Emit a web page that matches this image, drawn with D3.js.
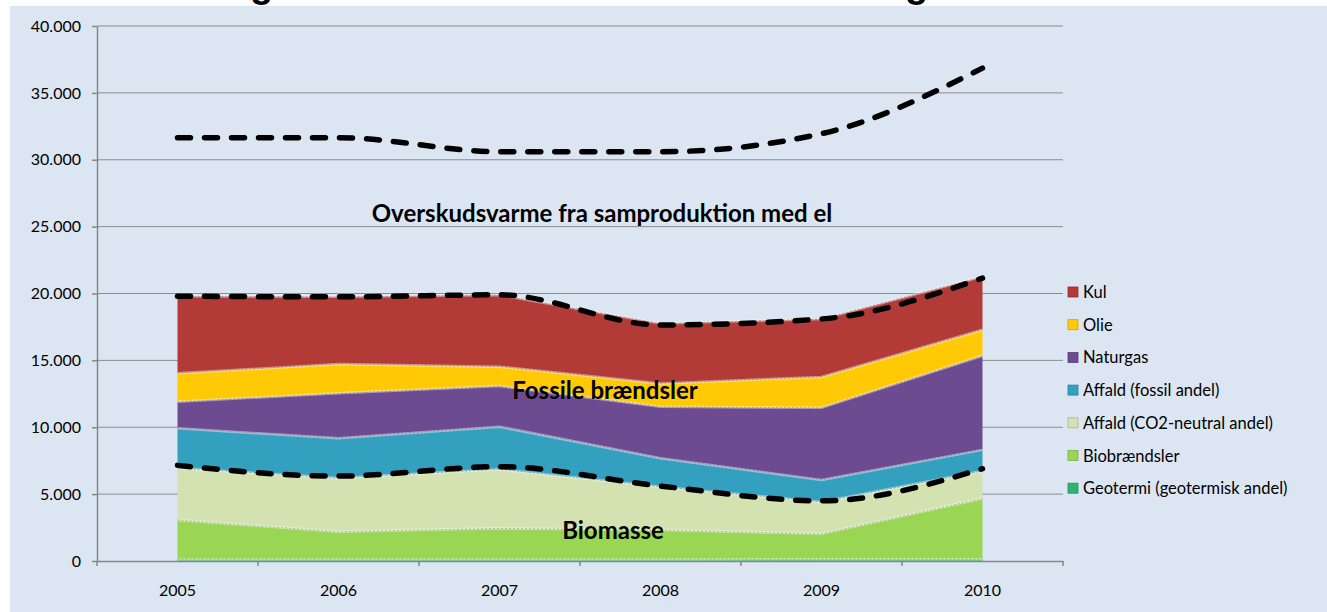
<!DOCTYPE html>
<html>
<head>
<meta charset="utf-8">
<script src="https://cdn.jsdelivr.net/npm/d3@7"></script>
<style>
  body { margin: 0; background: #ffffff; }
  svg { display: block; font-family: Lato, "Open Sans", sans-serif; }
</style>
</head>
<body>
<svg id="chart" width="1327" height="612"></svg>
<script>
// categories and values
const years = ["2005", "2006", "2007", "2008", "2009", "2010"];
const seriesNames = ["Geotermi (geotermisk andel)", "Biobrændsler", "Affald (CO2-neutral andel)",
  "Affald (fossil andel)", "Naturgas", "Olie", "Kul"];
const geotermi = [100, 100, 100, 100, 110, 110];
const biobraendsler = [2970, 2090, 2340, 2220, 1920, 4560];
const affaldCO2 = [3880, 4010, 4420, 3240, 2380, 2060];
const affaldFossil = [2970, 2970, 3180, 2120, 1650, 1580];
const naturgas = [1990, 3370, 3040, 3860, 5390, 7040];
const olie = [2120, 2190, 1450, 1740, 2310, 1940];
const kul = [5770, 5020, 5360, 4470, 4340, 3970];
// dashed overlay lines
const totalLine = [31650, 31650, 30600, 30600, 31950, 36850];
const fossilLine = [19800, 19750, 19900, 17650, 18100, 21150];
const biomassLine = [7150, 6350, 7050, 5600, 4500, 6900];
const yTicks = [0, 5000, 10000, 15000, 20000, 25000, 30000, 35000, 40000];

const colors = ["#2fb36f", "#98d654", "#d4e2b2", "#33a0c0", "#6c4b90", "#ffc905", "#b23b38"];
const seriesValues = [geotermi, biobraendsler, affaldCO2, affaldFossil, naturgas, olie, kul];

const svg = d3.select("#chart");
const plotLeft = 97, plotRight = 1063, plotTop = 26, plotBottom = 561;

// background
svg.append("rect").attr("x", 10).attr("y", 6).attr("width", 1317).attr("height", 606)
  .attr("fill", "#dce6f2");

// clipped title remnants at the very top (the title itself lies above the picture)
svg.append("g").selectAll("text")
  .data(["g", "g"])
  .enter().append("text")
  .attr("x", (d, i) => i === 0 ? 250 : 905)
  .attr("y", -3)
  .attr("font-size", 38).attr("font-weight", "bold").attr("font-family", "Liberation Sans, Arial")
  .text(d => d);

const x = d3.scaleBand().domain(years).range([plotLeft, plotRight]);
const xc = d => x(d) + x.bandwidth() / 2;
const y = d3.scaleLinear().domain([0, 40000]).range([plotBottom, plotTop]);

const locale = d3.formatLocale({ decimal: ",", thousands: ".", grouping: [3], currency: ["", ""] });
const fmt = locale.format(",d");

// gridlines
svg.append("g").selectAll("line")
  .data(yTicks.slice(1))
  .enter().append("line")
  .attr("x1", plotLeft).attr("x2", plotRight)
  .attr("y1", d => y(d)).attr("y2", d => y(d))
  .attr("stroke", "#8c8c8c").attr("stroke-width", 1);

// stacked data
const table = years.map((yr, i) => {
  const row = { year: yr };
  seriesNames.forEach((n, k) => { row[n] = seriesValues[k][i]; });
  return row;
});
const stacked = d3.stack().keys(seriesNames)(table);

const area = d3.area()
  .x(d => xc(d.data.year))
  .y0(d => y(d[0]))
  .y1(d => y(d[1]));

const topEdge = d3.line()
  .x(d => xc(d.data.year))
  .y(d => y(d[1]));

const areas = svg.append("g");
areas.selectAll("path.area")
  .data(stacked)
  .enter().append("path")
  .attr("class", "area")
  .attr("d", area)
  .attr("fill", (d, i) => colors[i]);

// light bevel edge on top of each layer
areas.selectAll("path.edge")
  .data(stacked)
  .enter().append("path")
  .attr("class", "edge")
  .attr("d", topEdge)
  .attr("fill", "none")
  .attr("stroke", "rgba(255,255,255,0.45)")
  .attr("stroke-width", 2.5);
areas.selectAll("path.edge2")
  .data(stacked)
  .enter().append("path")
  .attr("class", "edge2")
  .attr("d", topEdge)
  .attr("fill", "none")
  .attr("stroke", "rgba(120,120,120,0.5)")
  .attr("stroke-width", 1)
  .attr("stroke-dasharray", "2,2");

// axes
const yAxis = d3.axisLeft(y).tickValues(yTicks).tickFormat(d => fmt(d)).tickSize(5).tickSizeOuter(0);
const gy = svg.append("g").attr("transform", `translate(${plotLeft},0)`).call(yAxis);
gy.select(".domain").attr("stroke", "#868686").attr("stroke-width", 1.5);
gy.selectAll(".tick line").attr("stroke", "#868686").attr("stroke-width", 1.5);
gy.selectAll(".tick text").attr("x", -16).attr("font-size", 16).attr("fill", "#000")
  .attr("font-family", "Lato, sans-serif");

const xAxis = d3.axisBottom(x).tickSize(0).tickSizeOuter(0);
const gx = svg.append("g").attr("transform", `translate(0,${plotBottom})`).call(xAxis);
gx.select(".domain").attr("stroke", "#868686").attr("stroke-width", 1.5);
gx.selectAll(".tick text").attr("y", 24).attr("font-size", 16).attr("fill", "#000")
  .attr("font-family", "Lato, sans-serif");
gx.append("g").selectAll("line")
  .data(years.map(d => x(d)).concat([plotRight]))
  .enter().append("line")
  .attr("x1", d => d).attr("x2", d => d)
  .attr("y1", 0).attr("y2", 5)
  .attr("stroke", "#868686").attr("stroke-width", 1.5);

// dashed overlay lines
const dash = d3.line()
  .x((d, i) => xc(years[i]))
  .y(d => y(d))
  .curve(d3.curveMonotoneX);
svg.append("g").selectAll("path")
  .data([totalLine, fossilLine, biomassLine])
  .enter().append("path")
  .attr("d", dash)
  .attr("fill", "none")
  .attr("stroke", "#000")
  .attr("stroke-width", 5.5)
  .attr("stroke-linecap", "round")
  .attr("stroke-dasharray", "13,14");

// bold annotations
const labels = [
  { t: "Overskudsvarme fra samproduktion med el", x: 602, y: 222 },
  { t: "Fossile brændsler", x: 605, y: 399 },
  { t: "Biomasse", x: 613, y: 539 }
];
svg.append("g").selectAll("text")
  .data(labels)
  .enter().append("text")
  .attr("x", d => d.x).attr("y", d => d.y)
  .attr("text-anchor", "middle")
  .attr("font-size", 24).attr("font-weight", "bold")
  .attr("font-family", "Lato, sans-serif")
  .text(d => d.t);

// legend (top series first)
const legendItems = seriesNames.map((n, i) => ({ name: n, color: colors[i] })).reverse();
const lg = svg.append("g").attr("transform", "translate(1068,287)");
const item = lg.selectAll("g")
  .data(legendItems)
  .enter().append("g")
  .attr("transform", (d, i) => `translate(0,${i * 32.7})`);
item.append("rect")
  .attr("width", 10).attr("height", 10)
  .attr("fill", d => d.color)
  .attr("stroke", d => d3.color(d.color).darker(0.6))
  .attr("stroke-width", 0.8);
item.append("text")
  .attr("x", 15).attr("y", 11)
  .attr("font-size", 16.5)
  .attr("font-family", "Lato, sans-serif")
  .text(d => d.name);
</script>
</body>
</html>
